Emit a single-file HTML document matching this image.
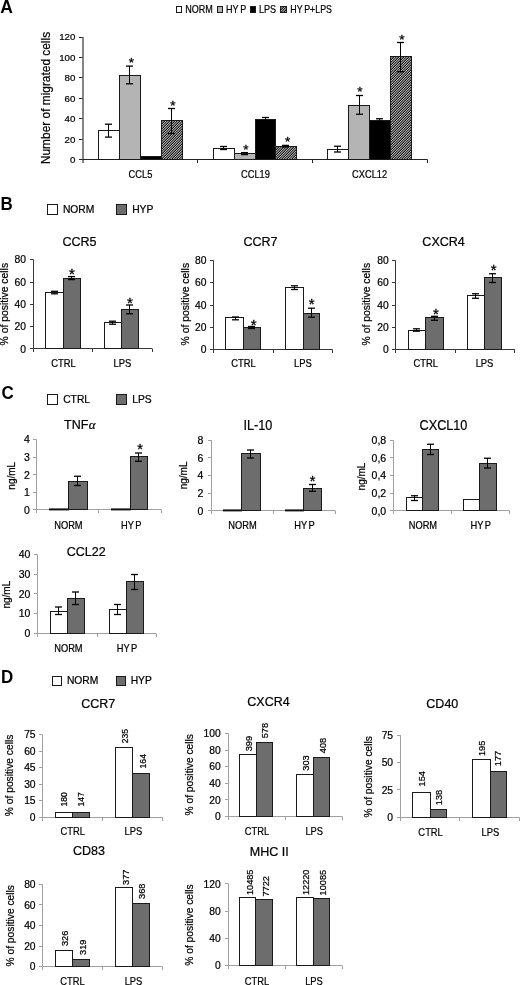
<!DOCTYPE html>
<html><head><meta charset="utf-8"><title>Figure</title>
<style>html,body{margin:0;padding:0;background:#fff;}svg{display:block;filter:blur(0.35px);}text{fill:#000;stroke:#000;stroke-width:0.22px;}</style>
</head><body>
<svg width="520" height="985" viewBox="0 0 520 985" font-family='"Liberation Sans", sans-serif'>
<defs><pattern id="hatch" patternUnits="userSpaceOnUse" width="5" height="5"><rect x="0" y="0" width="1" height="1" fill="#111111"/><rect x="1" y="0" width="1" height="1" fill="#bbbbbb"/><rect x="2" y="0" width="1" height="1" fill="#333333"/><rect x="3" y="0" width="1" height="1" fill="#7a7a7a"/><rect x="4" y="0" width="1" height="1" fill="#7a7a7a"/><rect x="0" y="1" width="1" height="1" fill="#bbbbbb"/><rect x="1" y="1" width="1" height="1" fill="#333333"/><rect x="2" y="1" width="1" height="1" fill="#7a7a7a"/><rect x="3" y="1" width="1" height="1" fill="#7a7a7a"/><rect x="4" y="1" width="1" height="1" fill="#111111"/><rect x="0" y="2" width="1" height="1" fill="#333333"/><rect x="1" y="2" width="1" height="1" fill="#7a7a7a"/><rect x="2" y="2" width="1" height="1" fill="#7a7a7a"/><rect x="3" y="2" width="1" height="1" fill="#111111"/><rect x="4" y="2" width="1" height="1" fill="#bbbbbb"/><rect x="0" y="3" width="1" height="1" fill="#7a7a7a"/><rect x="1" y="3" width="1" height="1" fill="#7a7a7a"/><rect x="2" y="3" width="1" height="1" fill="#111111"/><rect x="3" y="3" width="1" height="1" fill="#bbbbbb"/><rect x="4" y="3" width="1" height="1" fill="#333333"/><rect x="0" y="4" width="1" height="1" fill="#7a7a7a"/><rect x="1" y="4" width="1" height="1" fill="#111111"/><rect x="2" y="4" width="1" height="1" fill="#bbbbbb"/><rect x="3" y="4" width="1" height="1" fill="#333333"/><rect x="4" y="4" width="1" height="1" fill="#7a7a7a"/></pattern></defs>
<rect width="520" height="985" fill="#fff"/>
<text x="0.2" y="12.5" font-size="17.5" text-anchor="start" font-weight="bold" style="stroke-width:0">A</text>
<rect x="176.5" y="6.5" width="5" height="6" fill="#fff" stroke="#1a1a1a" stroke-width="1"/>
<text transform="translate(185.2,12.6) scale(0.88,1)" font-size="10.3" text-anchor="start">NORM</text>
<rect x="217.5" y="6.5" width="5" height="6" fill="#b4b4b4" stroke="#1a1a1a" stroke-width="1"/>
<text transform="translate(226,12.6) scale(0.88,1)" font-size="10.3" text-anchor="start">HY<tspan dx="2">P</tspan></text>
<rect x="250.5" y="6.5" width="5" height="6" fill="#000" stroke="#1a1a1a" stroke-width="1"/>
<text transform="translate(259,12.6) scale(0.88,1)" font-size="10.3" text-anchor="start">LPS</text>
<rect x="280.5" y="6.5" width="6" height="6" fill="url(#hatch)" stroke="#1a1a1a" stroke-width="1"/>
<text transform="translate(290.3,12.6) scale(0.855,1)" font-size="10.3" text-anchor="start">HY<tspan dx="2">P+LPS</tspan></text>
<line x1="83" y1="37" x2="83" y2="163" stroke="#222" stroke-width="1.1"/>
<line x1="79" y1="159.5" x2="82.5" y2="159.5" stroke="#222" stroke-width="1"/>
<text x="75.4" y="162.94" font-size="9.7" text-anchor="end">0</text>
<line x1="79" y1="139.5" x2="82.5" y2="139.5" stroke="#222" stroke-width="1"/>
<text x="75.4" y="142.53" font-size="9.7" text-anchor="end">20</text>
<line x1="79" y1="118.5" x2="82.5" y2="118.5" stroke="#222" stroke-width="1"/>
<text x="75.4" y="122.11" font-size="9.7" text-anchor="end">40</text>
<line x1="79" y1="98.5" x2="82.5" y2="98.5" stroke="#222" stroke-width="1"/>
<text x="75.4" y="101.69" font-size="9.7" text-anchor="end">60</text>
<line x1="79" y1="77.5" x2="82.5" y2="77.5" stroke="#222" stroke-width="1"/>
<text x="75.4" y="81.28" font-size="9.7" text-anchor="end">80</text>
<line x1="79" y1="57.5" x2="82.5" y2="57.5" stroke="#222" stroke-width="1"/>
<text x="75.4" y="60.86" font-size="9.7" text-anchor="end">100</text>
<line x1="79" y1="37.5" x2="82.5" y2="37.5" stroke="#222" stroke-width="1"/>
<text x="75.4" y="40.44" font-size="9.7" text-anchor="end">120</text>
<line x1="82.5" y1="159.5" x2="427.5" y2="159.5" stroke="#222" stroke-width="1"/>
<line x1="197.5" y1="159.5" x2="197.5" y2="163" stroke="#222" stroke-width="1"/>
<line x1="312.5" y1="159.5" x2="312.5" y2="163" stroke="#222" stroke-width="1"/>
<line x1="427.5" y1="159.5" x2="427.5" y2="163" stroke="#222" stroke-width="1"/>
<text transform="translate(50,98) rotate(-90)" font-size="11.9" text-anchor="middle">Number of migrated cells</text>
<rect x="98.5" y="130.5" width="21" height="29" fill="#fff" stroke="#1a1a1a" stroke-width="1"/>
<line x1="108.5" y1="124.2" x2="108.5" y2="137.1" stroke="#000" stroke-width="1"/>
<line x1="105" y1="124.2" x2="112" y2="124.2" stroke="#000" stroke-width="1.3"/>
<line x1="105" y1="137.1" x2="112" y2="137.1" stroke="#000" stroke-width="1.3"/>
<rect x="119.5" y="75.5" width="21" height="84" fill="#b4b4b4" stroke="#1a1a1a" stroke-width="1"/>
<line x1="129.5" y1="66.1" x2="129.5" y2="83.8" stroke="#000" stroke-width="1"/>
<line x1="126" y1="66.1" x2="133" y2="66.1" stroke="#000" stroke-width="1.3"/>
<line x1="126" y1="83.8" x2="133" y2="83.8" stroke="#000" stroke-width="1.3"/>
<text x="131.4" y="67.45" font-size="13.5" text-anchor="middle" style="stroke-width:0.3px">*</text>
<rect x="140.5" y="156.5" width="21" height="3" fill="#000" stroke="#1a1a1a" stroke-width="1"/>
<rect x="161.5" y="120.5" width="21" height="39" fill="url(#hatch)" stroke="#1a1a1a" stroke-width="1"/>
<line x1="171.5" y1="108.5" x2="171.5" y2="133.5" stroke="#000" stroke-width="1"/>
<line x1="168" y1="108.5" x2="175" y2="108.5" stroke="#000" stroke-width="1.3"/>
<line x1="168" y1="133.5" x2="175" y2="133.5" stroke="#000" stroke-width="1.3"/>
<text x="173" y="109.75" font-size="13.5" text-anchor="middle" style="stroke-width:0.3px">*</text>
<rect x="213.5" y="148.5" width="21" height="11" fill="#fff" stroke="#1a1a1a" stroke-width="1"/>
<line x1="223.5" y1="146.5" x2="223.5" y2="149.5" stroke="#000" stroke-width="1"/>
<line x1="220" y1="146.5" x2="227" y2="146.5" stroke="#000" stroke-width="1.3"/>
<line x1="220" y1="149.5" x2="227" y2="149.5" stroke="#000" stroke-width="1.3"/>
<rect x="234.5" y="153.5" width="21" height="6" fill="#b4b4b4" stroke="#1a1a1a" stroke-width="1"/>
<line x1="244.5" y1="152.6" x2="244.5" y2="154.6" stroke="#000" stroke-width="1"/>
<line x1="241" y1="152.6" x2="248" y2="152.6" stroke="#000" stroke-width="1.3"/>
<line x1="241" y1="154.6" x2="248" y2="154.6" stroke="#000" stroke-width="1.3"/>
<text x="246" y="154.25" font-size="13.5" text-anchor="middle" style="stroke-width:0.3px">*</text>
<rect x="255.5" y="119.5" width="20" height="40" fill="#000" stroke="#1a1a1a" stroke-width="1"/>
<line x1="265.5" y1="117.5" x2="265.5" y2="121" stroke="#000" stroke-width="1"/>
<line x1="262" y1="117.5" x2="269" y2="117.5" stroke="#000" stroke-width="1.3"/>
<line x1="262" y1="121" x2="269" y2="121" stroke="#000" stroke-width="1.3"/>
<rect x="275.5" y="146.5" width="21" height="13" fill="url(#hatch)" stroke="#1a1a1a" stroke-width="1"/>
<line x1="285.5" y1="145.4" x2="285.5" y2="147" stroke="#000" stroke-width="1"/>
<line x1="282" y1="145.4" x2="289" y2="145.4" stroke="#000" stroke-width="1.3"/>
<line x1="282" y1="147" x2="289" y2="147" stroke="#000" stroke-width="1.3"/>
<text x="287.7" y="145.55" font-size="13.5" text-anchor="middle" style="stroke-width:0.3px">*</text>
<rect x="327.5" y="149.5" width="21" height="10" fill="#fff" stroke="#1a1a1a" stroke-width="1"/>
<line x1="337.5" y1="146.25" x2="337.5" y2="152" stroke="#000" stroke-width="1"/>
<line x1="334" y1="146.25" x2="341" y2="146.25" stroke="#000" stroke-width="1.3"/>
<line x1="334" y1="152" x2="341" y2="152" stroke="#000" stroke-width="1.3"/>
<rect x="348.5" y="105.5" width="21" height="54" fill="#b4b4b4" stroke="#1a1a1a" stroke-width="1"/>
<line x1="359.5" y1="95.5" x2="359.5" y2="114.25" stroke="#000" stroke-width="1"/>
<line x1="356" y1="95.5" x2="363" y2="95.5" stroke="#000" stroke-width="1.3"/>
<line x1="356" y1="114.25" x2="363" y2="114.25" stroke="#000" stroke-width="1.3"/>
<text x="360" y="96.45" font-size="13.5" text-anchor="middle" style="stroke-width:0.3px">*</text>
<rect x="369.5" y="120.5" width="21" height="39" fill="#000" stroke="#1a1a1a" stroke-width="1"/>
<line x1="379.5" y1="118.75" x2="379.5" y2="122" stroke="#000" stroke-width="1"/>
<line x1="376" y1="118.75" x2="383" y2="118.75" stroke="#000" stroke-width="1.3"/>
<line x1="376" y1="122" x2="383" y2="122" stroke="#000" stroke-width="1.3"/>
<rect x="390.5" y="56.5" width="21" height="103" fill="url(#hatch)" stroke="#1a1a1a" stroke-width="1"/>
<line x1="400.5" y1="42.5" x2="400.5" y2="71.75" stroke="#000" stroke-width="1"/>
<line x1="397" y1="42.5" x2="404" y2="42.5" stroke="#000" stroke-width="1.3"/>
<line x1="397" y1="71.75" x2="404" y2="71.75" stroke="#000" stroke-width="1.3"/>
<text x="402" y="43.95" font-size="13.5" text-anchor="middle" style="stroke-width:0.3px">*</text>
<text transform="translate(140.5,177.6) scale(0.87,1)" font-size="10.7" text-anchor="middle">CCL5</text>
<text transform="translate(255.5,177.6) scale(0.87,1)" font-size="10.7" text-anchor="middle">CCL19</text>
<text transform="translate(369.6,177.6) scale(0.87,1)" font-size="10.7" text-anchor="middle">CXCL12</text>
<text transform="translate(0.5,209.6) scale(0.97,1)" font-size="17.5" text-anchor="start" font-weight="bold" style="stroke-width:0">B</text>
<rect x="47.5" y="204.5" width="10" height="10" fill="#fff" stroke="#1a1a1a" stroke-width="1"/>
<rect x="116.5" y="204.5" width="10" height="10" fill="#6d6d6d" stroke="#1a1a1a" stroke-width="1"/>
<text x="62.9" y="213" font-size="10.3" text-anchor="start">NORM</text>
<text x="132.2" y="213" font-size="10.3" text-anchor="start">HYP</text>
<line x1="33.5" y1="259.7" x2="33.5" y2="348.5" stroke="#383838" stroke-width="1"/>
<line x1="30" y1="348.5" x2="33.5" y2="348.5" stroke="#383838" stroke-width="1"/>
<text x="26" y="352.56" font-size="10.3" text-anchor="end">0</text>
<line x1="30" y1="326.5" x2="33.5" y2="326.5" stroke="#383838" stroke-width="1"/>
<text x="26" y="330.26" font-size="10.3" text-anchor="end">20</text>
<line x1="30" y1="304.5" x2="33.5" y2="304.5" stroke="#383838" stroke-width="1"/>
<text x="26" y="307.96" font-size="10.3" text-anchor="end">40</text>
<line x1="30" y1="282.5" x2="33.5" y2="282.5" stroke="#383838" stroke-width="1"/>
<text x="26" y="285.66" font-size="10.3" text-anchor="end">60</text>
<line x1="30" y1="259.5" x2="33.5" y2="259.5" stroke="#383838" stroke-width="1"/>
<text x="26" y="263.36" font-size="10.3" text-anchor="end">80</text>
<line x1="33.5" y1="348.5" x2="152" y2="348.5" stroke="#383838" stroke-width="1"/>
<line x1="33.5" y1="348.5" x2="33.5" y2="352" stroke="#383838" stroke-width="1"/>
<line x1="92.5" y1="348.5" x2="92.5" y2="352" stroke="#383838" stroke-width="1"/>
<line x1="152.5" y1="348.5" x2="152.5" y2="352" stroke="#383838" stroke-width="1"/>
<text transform="translate(79.5,246.4) scale(0.93,1)" font-size="13.5" text-anchor="middle">CCR5</text>
<text transform="translate(8.2,304.2) rotate(-90)" font-size="10.4" text-anchor="middle">% of positive cells</text>
<rect x="45.5" y="292.5" width="18" height="56" fill="#fff" stroke="#1a1a1a" stroke-width="1"/>
<line x1="54.5" y1="291.3" x2="54.5" y2="293.8" stroke="#000" stroke-width="1"/>
<line x1="51" y1="291.3" x2="58" y2="291.3" stroke="#000" stroke-width="1.3"/>
<line x1="51" y1="293.8" x2="58" y2="293.8" stroke="#000" stroke-width="1.3"/>
<rect x="63.5" y="278.5" width="17" height="70" fill="#6d6d6d" stroke="#1a1a1a" stroke-width="1"/>
<line x1="71.5" y1="276.6" x2="71.5" y2="279.6" stroke="#000" stroke-width="1"/>
<line x1="68" y1="276.6" x2="75" y2="276.6" stroke="#000" stroke-width="1.3"/>
<line x1="68" y1="279.6" x2="75" y2="279.6" stroke="#000" stroke-width="1.3"/>
<text x="72" y="279.03" font-size="15" text-anchor="middle" style="stroke-width:0.3px">*</text>
<rect x="104.5" y="322.5" width="17" height="26" fill="#fff" stroke="#1a1a1a" stroke-width="1"/>
<line x1="112.5" y1="321.2" x2="112.5" y2="324.2" stroke="#000" stroke-width="1"/>
<line x1="109" y1="321.2" x2="116" y2="321.2" stroke="#000" stroke-width="1.3"/>
<line x1="109" y1="324.2" x2="116" y2="324.2" stroke="#000" stroke-width="1.3"/>
<rect x="121.5" y="309.5" width="17" height="39" fill="#6d6d6d" stroke="#1a1a1a" stroke-width="1"/>
<line x1="129.5" y1="305" x2="129.5" y2="313.75" stroke="#000" stroke-width="1"/>
<line x1="126" y1="305" x2="133" y2="305" stroke="#000" stroke-width="1.3"/>
<line x1="126" y1="313.75" x2="133" y2="313.75" stroke="#000" stroke-width="1.3"/>
<text x="130" y="307.73" font-size="15" text-anchor="middle" style="stroke-width:0.3px">*</text>
<text transform="translate(63.5,367.2) scale(0.94,1)" font-size="10" text-anchor="middle">CTRL</text>
<text transform="translate(122.35,367.2) scale(0.94,1)" font-size="10" text-anchor="middle">LPS</text>
<line x1="213.5" y1="260.5" x2="213.5" y2="349.5" stroke="#383838" stroke-width="1"/>
<line x1="210" y1="349.5" x2="213.5" y2="349.5" stroke="#383838" stroke-width="1"/>
<text x="206.5" y="353.36" font-size="10.3" text-anchor="end">0</text>
<line x1="210" y1="327.5" x2="213.5" y2="327.5" stroke="#383838" stroke-width="1"/>
<text x="206.5" y="331.06" font-size="10.3" text-anchor="end">20</text>
<line x1="210" y1="305.5" x2="213.5" y2="305.5" stroke="#383838" stroke-width="1"/>
<text x="206.5" y="308.76" font-size="10.3" text-anchor="end">40</text>
<line x1="210" y1="282.5" x2="213.5" y2="282.5" stroke="#383838" stroke-width="1"/>
<text x="206.5" y="286.46" font-size="10.3" text-anchor="end">60</text>
<line x1="210" y1="260.5" x2="213.5" y2="260.5" stroke="#383838" stroke-width="1"/>
<text x="206.5" y="264.16" font-size="10.3" text-anchor="end">80</text>
<line x1="213.5" y1="349.5" x2="332.5" y2="349.5" stroke="#383838" stroke-width="1"/>
<line x1="213.5" y1="349.5" x2="213.5" y2="353" stroke="#383838" stroke-width="1"/>
<line x1="273.5" y1="349.5" x2="273.5" y2="353" stroke="#383838" stroke-width="1"/>
<line x1="332.5" y1="349.5" x2="332.5" y2="353" stroke="#383838" stroke-width="1"/>
<text transform="translate(260.5,246.4) scale(0.93,1)" font-size="13.5" text-anchor="middle">CCR7</text>
<text transform="translate(189.4,304.2) rotate(-90)" font-size="10.4" text-anchor="middle">% of positive cells</text>
<rect x="225.5" y="317.5" width="18" height="32" fill="#fff" stroke="#1a1a1a" stroke-width="1"/>
<line x1="235.5" y1="317" x2="235.5" y2="319.8" stroke="#000" stroke-width="1"/>
<line x1="232" y1="317" x2="239" y2="317" stroke="#000" stroke-width="1.3"/>
<line x1="232" y1="319.8" x2="239" y2="319.8" stroke="#000" stroke-width="1.3"/>
<rect x="243.5" y="327.5" width="17" height="22" fill="#6d6d6d" stroke="#1a1a1a" stroke-width="1"/>
<line x1="251.5" y1="326.5" x2="251.5" y2="328.5" stroke="#000" stroke-width="1"/>
<line x1="248" y1="326.5" x2="255" y2="326.5" stroke="#000" stroke-width="1.3"/>
<line x1="248" y1="328.5" x2="255" y2="328.5" stroke="#000" stroke-width="1.3"/>
<text x="253.75" y="329.98" font-size="15" text-anchor="middle" style="stroke-width:0.3px">*</text>
<rect x="285.5" y="287.5" width="18" height="62" fill="#fff" stroke="#1a1a1a" stroke-width="1"/>
<line x1="294.5" y1="285.8" x2="294.5" y2="289.5" stroke="#000" stroke-width="1"/>
<line x1="291" y1="285.8" x2="298" y2="285.8" stroke="#000" stroke-width="1.3"/>
<line x1="291" y1="289.5" x2="298" y2="289.5" stroke="#000" stroke-width="1.3"/>
<rect x="303.5" y="313.5" width="16" height="36" fill="#6d6d6d" stroke="#1a1a1a" stroke-width="1"/>
<line x1="311.5" y1="308.2" x2="311.5" y2="317.2" stroke="#000" stroke-width="1"/>
<line x1="308" y1="308.2" x2="315" y2="308.2" stroke="#000" stroke-width="1.3"/>
<line x1="308" y1="317.2" x2="315" y2="317.2" stroke="#000" stroke-width="1.3"/>
<text x="311.75" y="308.73" font-size="15" text-anchor="middle" style="stroke-width:0.3px">*</text>
<text transform="translate(243.5,367.2) scale(0.94,1)" font-size="10" text-anchor="middle">CTRL</text>
<text transform="translate(302.9,367.2) scale(0.94,1)" font-size="10" text-anchor="middle">LPS</text>
<line x1="395.5" y1="260.5" x2="395.5" y2="349.5" stroke="#383838" stroke-width="1"/>
<line x1="392" y1="349.5" x2="395.5" y2="349.5" stroke="#383838" stroke-width="1"/>
<text x="388.8" y="353.36" font-size="10.3" text-anchor="end">0</text>
<line x1="392" y1="327.5" x2="395.5" y2="327.5" stroke="#383838" stroke-width="1"/>
<text x="388.8" y="331.06" font-size="10.3" text-anchor="end">20</text>
<line x1="392" y1="305.5" x2="395.5" y2="305.5" stroke="#383838" stroke-width="1"/>
<text x="388.8" y="308.76" font-size="10.3" text-anchor="end">40</text>
<line x1="392" y1="282.5" x2="395.5" y2="282.5" stroke="#383838" stroke-width="1"/>
<text x="388.8" y="286.46" font-size="10.3" text-anchor="end">60</text>
<line x1="392" y1="260.5" x2="395.5" y2="260.5" stroke="#383838" stroke-width="1"/>
<text x="388.8" y="264.16" font-size="10.3" text-anchor="end">80</text>
<line x1="395.5" y1="349.5" x2="514.8" y2="349.5" stroke="#383838" stroke-width="1"/>
<line x1="395.5" y1="349.5" x2="395.5" y2="353" stroke="#383838" stroke-width="1"/>
<line x1="455.5" y1="349.5" x2="455.5" y2="353" stroke="#383838" stroke-width="1"/>
<line x1="514.5" y1="349.5" x2="514.5" y2="353" stroke="#383838" stroke-width="1"/>
<text transform="translate(443.6,246.4) scale(0.93,1)" font-size="13.5" text-anchor="middle">CXCR4</text>
<text transform="translate(370.4,304.2) rotate(-90)" font-size="10.4" text-anchor="middle">% of positive cells</text>
<rect x="408.5" y="330.5" width="17" height="19" fill="#fff" stroke="#1a1a1a" stroke-width="1"/>
<line x1="416.5" y1="328.8" x2="416.5" y2="331.2" stroke="#000" stroke-width="1"/>
<line x1="413" y1="328.8" x2="420" y2="328.8" stroke="#000" stroke-width="1.3"/>
<line x1="413" y1="331.2" x2="420" y2="331.2" stroke="#000" stroke-width="1.3"/>
<rect x="425.5" y="317.5" width="18" height="32" fill="#6d6d6d" stroke="#1a1a1a" stroke-width="1"/>
<line x1="434.5" y1="316.3" x2="434.5" y2="320.3" stroke="#000" stroke-width="1"/>
<line x1="431" y1="316.3" x2="438" y2="316.3" stroke="#000" stroke-width="1.3"/>
<line x1="431" y1="320.3" x2="438" y2="320.3" stroke="#000" stroke-width="1.3"/>
<text x="435.9" y="318.73" font-size="15" text-anchor="middle" style="stroke-width:0.3px">*</text>
<rect x="467.5" y="295.5" width="17" height="54" fill="#fff" stroke="#1a1a1a" stroke-width="1"/>
<line x1="475.5" y1="293.75" x2="475.5" y2="298.25" stroke="#000" stroke-width="1"/>
<line x1="472" y1="293.75" x2="479" y2="293.75" stroke="#000" stroke-width="1.3"/>
<line x1="472" y1="298.25" x2="479" y2="298.25" stroke="#000" stroke-width="1.3"/>
<rect x="484.5" y="277.5" width="17" height="72" fill="#6d6d6d" stroke="#1a1a1a" stroke-width="1"/>
<line x1="492.5" y1="273.75" x2="492.5" y2="282.5" stroke="#000" stroke-width="1"/>
<line x1="489" y1="273.75" x2="496" y2="273.75" stroke="#000" stroke-width="1.3"/>
<line x1="489" y1="282.5" x2="496" y2="282.5" stroke="#000" stroke-width="1.3"/>
<text x="493.7" y="275.03" font-size="15" text-anchor="middle" style="stroke-width:0.3px">*</text>
<text transform="translate(425.8,367.2) scale(0.94,1)" font-size="10" text-anchor="middle">CTRL</text>
<text transform="translate(484.5,367.2) scale(0.94,1)" font-size="10" text-anchor="middle">LPS</text>
<text transform="translate(1.6,399) scale(0.97,1)" font-size="17.5" text-anchor="start" font-weight="bold" style="stroke-width:0">C</text>
<rect x="47.5" y="394.5" width="10" height="10" fill="#fff" stroke="#1a1a1a" stroke-width="1"/>
<rect x="116.5" y="394.5" width="10" height="10" fill="#6d6d6d" stroke="#1a1a1a" stroke-width="1"/>
<text x="63.2" y="403" font-size="10.3" text-anchor="start">CTRL</text>
<text x="132.2" y="403" font-size="10.3" text-anchor="start">LPS</text>
<line x1="36.5" y1="439.7" x2="36.5" y2="509.5" stroke="#a0a0a0" stroke-width="1"/>
<line x1="33" y1="509.5" x2="36.5" y2="509.5" stroke="#a0a0a0" stroke-width="1"/>
<text x="29.8" y="513.63" font-size="10.5" text-anchor="end">0</text>
<line x1="33" y1="492.5" x2="36.5" y2="492.5" stroke="#a0a0a0" stroke-width="1"/>
<text x="29.8" y="496.08" font-size="10.5" text-anchor="end">1</text>
<line x1="33" y1="474.5" x2="36.5" y2="474.5" stroke="#a0a0a0" stroke-width="1"/>
<text x="29.8" y="478.53" font-size="10.5" text-anchor="end">2</text>
<line x1="33" y1="457.5" x2="36.5" y2="457.5" stroke="#a0a0a0" stroke-width="1"/>
<text x="29.8" y="460.98" font-size="10.5" text-anchor="end">3</text>
<line x1="33" y1="439.5" x2="36.5" y2="439.5" stroke="#a0a0a0" stroke-width="1"/>
<text x="29.8" y="443.43" font-size="10.5" text-anchor="end">4</text>
<line x1="36.5" y1="509.5" x2="161" y2="509.5" stroke="#a0a0a0" stroke-width="1"/>
<line x1="36.5" y1="509.5" x2="36.5" y2="513" stroke="#a0a0a0" stroke-width="1"/>
<line x1="98.5" y1="509.5" x2="98.5" y2="513" stroke="#a0a0a0" stroke-width="1"/>
<line x1="161.5" y1="509.5" x2="161.5" y2="513" stroke="#a0a0a0" stroke-width="1"/>
<text transform="translate(15,475.75) rotate(-90)" font-size="10" text-anchor="middle">ng/mL</text>
<rect x="49" y="508.4" width="20" height="2" fill="#111"/>
<rect x="68.5" y="481.5" width="19" height="28" fill="#6d6d6d" stroke="#1a1a1a" stroke-width="1"/>
<line x1="77.5" y1="476.25" x2="77.5" y2="485.5" stroke="#000" stroke-width="1"/>
<line x1="74" y1="476.25" x2="81" y2="476.25" stroke="#000" stroke-width="1.3"/>
<line x1="74" y1="485.5" x2="81" y2="485.5" stroke="#000" stroke-width="1.3"/>
<rect x="111" y="508.4" width="20" height="2" fill="#111"/>
<rect x="130.5" y="456.5" width="17" height="53" fill="#6d6d6d" stroke="#1a1a1a" stroke-width="1"/>
<line x1="138.5" y1="453" x2="138.5" y2="461.25" stroke="#000" stroke-width="1"/>
<line x1="135" y1="453" x2="142" y2="453" stroke="#000" stroke-width="1.3"/>
<line x1="135" y1="461.25" x2="142" y2="461.25" stroke="#000" stroke-width="1.3"/>
<text x="140" y="453.72" font-size="14.5" text-anchor="middle" style="stroke-width:0.3px">*</text>
<text transform="translate(68.4,528.8) scale(0.93,1)" font-size="10" text-anchor="middle">NORM</text>
<text transform="translate(131.25,528.8) scale(0.93,1)" font-size="10" text-anchor="middle">HY<tspan dx="1.5">P</tspan></text>
<text transform="translate(64,429.1) scale(0.97,1)" font-size="12.9" text-anchor="start">TNF<tspan dx="0.6" font-family='"Liberation Serif", serif' font-style="italic" font-size="13.5">&#945;</tspan></text>
<line x1="211.5" y1="440.3" x2="211.5" y2="510.5" stroke="#a0a0a0" stroke-width="1"/>
<line x1="208" y1="510.5" x2="211.5" y2="510.5" stroke="#a0a0a0" stroke-width="1"/>
<text x="203.4" y="514.53" font-size="10.5" text-anchor="end">0</text>
<line x1="208" y1="493.5" x2="211.5" y2="493.5" stroke="#a0a0a0" stroke-width="1"/>
<text x="203.4" y="496.9" font-size="10.5" text-anchor="end">2</text>
<line x1="208" y1="475.5" x2="211.5" y2="475.5" stroke="#a0a0a0" stroke-width="1"/>
<text x="203.4" y="479.28" font-size="10.5" text-anchor="end">4</text>
<line x1="208" y1="457.5" x2="211.5" y2="457.5" stroke="#a0a0a0" stroke-width="1"/>
<text x="203.4" y="461.65" font-size="10.5" text-anchor="end">6</text>
<line x1="208" y1="440.5" x2="211.5" y2="440.5" stroke="#a0a0a0" stroke-width="1"/>
<text x="203.4" y="444.03" font-size="10.5" text-anchor="end">8</text>
<line x1="211.5" y1="510.5" x2="335" y2="510.5" stroke="#a0a0a0" stroke-width="1"/>
<line x1="211.5" y1="510.5" x2="211.5" y2="514" stroke="#a0a0a0" stroke-width="1"/>
<line x1="273.5" y1="510.5" x2="273.5" y2="514" stroke="#a0a0a0" stroke-width="1"/>
<line x1="335.5" y1="510.5" x2="335.5" y2="514" stroke="#a0a0a0" stroke-width="1"/>
<text transform="translate(257.8,429.6) scale(0.88,1)" font-size="14.4" text-anchor="middle">IL-10</text>
<text transform="translate(187.3,475.4) rotate(-90)" font-size="10" text-anchor="middle">ng/mL</text>
<rect x="223" y="509.4" width="19" height="2" fill="#111"/>
<rect x="241.5" y="453.5" width="19" height="57" fill="#6d6d6d" stroke="#1a1a1a" stroke-width="1"/>
<line x1="250.5" y1="450" x2="250.5" y2="458" stroke="#000" stroke-width="1"/>
<line x1="247" y1="450" x2="254" y2="450" stroke="#000" stroke-width="1.3"/>
<line x1="247" y1="458" x2="254" y2="458" stroke="#000" stroke-width="1.3"/>
<rect x="285" y="509.4" width="19" height="2" fill="#111"/>
<rect x="303.5" y="488.5" width="18" height="22" fill="#6d6d6d" stroke="#1a1a1a" stroke-width="1"/>
<line x1="312.5" y1="484.5" x2="312.5" y2="491.25" stroke="#000" stroke-width="1"/>
<line x1="309" y1="484.5" x2="316" y2="484.5" stroke="#000" stroke-width="1.3"/>
<line x1="309" y1="491.25" x2="316" y2="491.25" stroke="#000" stroke-width="1.3"/>
<text x="312.5" y="485.97" font-size="14.5" text-anchor="middle" style="stroke-width:0.3px">*</text>
<text transform="translate(242.5,528.8) scale(0.93,1)" font-size="10" text-anchor="middle">NORM</text>
<text transform="translate(304.5,528.8) scale(0.93,1)" font-size="10" text-anchor="middle">HY<tspan dx="1.5">P</tspan></text>
<line x1="393.5" y1="440.3" x2="393.5" y2="510.5" stroke="#a0a0a0" stroke-width="1"/>
<line x1="390" y1="510.5" x2="393.5" y2="510.5" stroke="#a0a0a0" stroke-width="1"/>
<text x="386.2" y="514.53" font-size="10.5" text-anchor="end">0,0</text>
<line x1="390" y1="493.5" x2="393.5" y2="493.5" stroke="#a0a0a0" stroke-width="1"/>
<text x="386.2" y="496.9" font-size="10.5" text-anchor="end">0,2</text>
<line x1="390" y1="475.5" x2="393.5" y2="475.5" stroke="#a0a0a0" stroke-width="1"/>
<text x="386.2" y="479.28" font-size="10.5" text-anchor="end">0,4</text>
<line x1="390" y1="457.5" x2="393.5" y2="457.5" stroke="#a0a0a0" stroke-width="1"/>
<text x="386.2" y="461.65" font-size="10.5" text-anchor="end">0,6</text>
<line x1="390" y1="440.5" x2="393.5" y2="440.5" stroke="#a0a0a0" stroke-width="1"/>
<text x="386.2" y="444.03" font-size="10.5" text-anchor="end">0,8</text>
<line x1="393.5" y1="510.5" x2="509" y2="510.5" stroke="#a0a0a0" stroke-width="1"/>
<line x1="393.5" y1="510.5" x2="393.5" y2="514" stroke="#a0a0a0" stroke-width="1"/>
<line x1="451.5" y1="510.5" x2="451.5" y2="514" stroke="#a0a0a0" stroke-width="1"/>
<line x1="509.5" y1="510.5" x2="509.5" y2="514" stroke="#a0a0a0" stroke-width="1"/>
<text transform="translate(443.5,430.4) scale(0.88,1)" font-size="14.4" text-anchor="middle">CXCL10</text>
<text transform="translate(364.6,476.5) rotate(-90)" font-size="10" text-anchor="middle">ng/mL</text>
<rect x="406.5" y="497.5" width="16" height="13" fill="#fff" stroke="#1a1a1a" stroke-width="1"/>
<line x1="414.5" y1="495.75" x2="414.5" y2="500.5" stroke="#000" stroke-width="1"/>
<line x1="411" y1="495.75" x2="418" y2="495.75" stroke="#000" stroke-width="1.3"/>
<line x1="411" y1="500.5" x2="418" y2="500.5" stroke="#000" stroke-width="1.3"/>
<rect x="422.5" y="449.5" width="16" height="61" fill="#6d6d6d" stroke="#1a1a1a" stroke-width="1"/>
<line x1="430.5" y1="444.25" x2="430.5" y2="454.5" stroke="#000" stroke-width="1"/>
<line x1="427" y1="444.25" x2="434" y2="444.25" stroke="#000" stroke-width="1.3"/>
<line x1="427" y1="454.5" x2="434" y2="454.5" stroke="#000" stroke-width="1.3"/>
<rect x="463.5" y="499.5" width="16" height="11" fill="#fff" stroke="#1a1a1a" stroke-width="1"/>
<rect x="479.5" y="463.5" width="17" height="47" fill="#6d6d6d" stroke="#1a1a1a" stroke-width="1"/>
<line x1="487.5" y1="458.25" x2="487.5" y2="468" stroke="#000" stroke-width="1"/>
<line x1="484" y1="458.25" x2="491" y2="458.25" stroke="#000" stroke-width="1.3"/>
<line x1="484" y1="468" x2="491" y2="468" stroke="#000" stroke-width="1.3"/>
<text transform="translate(422.9,528.8) scale(0.93,1)" font-size="10" text-anchor="middle">NORM</text>
<text transform="translate(480.75,528.8) scale(0.93,1)" font-size="10" text-anchor="middle">HY<tspan dx="1.5">P</tspan></text>
<line x1="37.5" y1="554.6" x2="37.5" y2="633.5" stroke="#a0a0a0" stroke-width="1"/>
<line x1="34" y1="633.5" x2="37.5" y2="633.5" stroke="#a0a0a0" stroke-width="1"/>
<text x="30.4" y="636.73" font-size="10.5" text-anchor="end">0</text>
<line x1="34" y1="613.5" x2="37.5" y2="613.5" stroke="#a0a0a0" stroke-width="1"/>
<text x="30.4" y="617.13" font-size="10.5" text-anchor="end">10</text>
<line x1="34" y1="593.5" x2="37.5" y2="593.5" stroke="#a0a0a0" stroke-width="1"/>
<text x="30.4" y="597.53" font-size="10.5" text-anchor="end">20</text>
<line x1="34" y1="574.5" x2="37.5" y2="574.5" stroke="#a0a0a0" stroke-width="1"/>
<text x="30.4" y="577.93" font-size="10.5" text-anchor="end">30</text>
<line x1="34" y1="554.5" x2="37.5" y2="554.5" stroke="#a0a0a0" stroke-width="1"/>
<text x="30.4" y="558.33" font-size="10.5" text-anchor="end">40</text>
<line x1="37.5" y1="633.5" x2="156" y2="633.5" stroke="#a0a0a0" stroke-width="1"/>
<line x1="37.5" y1="633.5" x2="37.5" y2="637" stroke="#a0a0a0" stroke-width="1"/>
<line x1="97.5" y1="633.5" x2="97.5" y2="637" stroke="#a0a0a0" stroke-width="1"/>
<line x1="156.5" y1="633.5" x2="156.5" y2="637" stroke="#a0a0a0" stroke-width="1"/>
<text transform="translate(86.2,556.2) scale(0.95,1)" font-size="13.2" text-anchor="middle">CCL22</text>
<text transform="translate(10.2,594.7) rotate(-90)" font-size="10" text-anchor="middle">ng/mL</text>
<rect x="50.5" y="611.5" width="17" height="22" fill="#fff" stroke="#1a1a1a" stroke-width="1"/>
<line x1="58.5" y1="607" x2="58.5" y2="614.5" stroke="#000" stroke-width="1"/>
<line x1="55" y1="607" x2="62" y2="607" stroke="#000" stroke-width="1.3"/>
<line x1="55" y1="614.5" x2="62" y2="614.5" stroke="#000" stroke-width="1.3"/>
<rect x="67.5" y="598.5" width="17" height="35" fill="#6d6d6d" stroke="#1a1a1a" stroke-width="1"/>
<line x1="75.5" y1="592" x2="75.5" y2="604.5" stroke="#000" stroke-width="1"/>
<line x1="72" y1="592" x2="79" y2="592" stroke="#000" stroke-width="1.3"/>
<line x1="72" y1="604.5" x2="79" y2="604.5" stroke="#000" stroke-width="1.3"/>
<rect x="109.5" y="609.5" width="17" height="24" fill="#fff" stroke="#1a1a1a" stroke-width="1"/>
<line x1="117.5" y1="604.5" x2="117.5" y2="614.5" stroke="#000" stroke-width="1"/>
<line x1="114" y1="604.5" x2="121" y2="604.5" stroke="#000" stroke-width="1.3"/>
<line x1="114" y1="614.5" x2="121" y2="614.5" stroke="#000" stroke-width="1.3"/>
<rect x="126.5" y="581.5" width="17" height="52" fill="#6d6d6d" stroke="#1a1a1a" stroke-width="1"/>
<line x1="134.5" y1="574.5" x2="134.5" y2="589.5" stroke="#000" stroke-width="1"/>
<line x1="131" y1="574.5" x2="138" y2="574.5" stroke="#000" stroke-width="1.3"/>
<line x1="131" y1="589.5" x2="138" y2="589.5" stroke="#000" stroke-width="1.3"/>
<text transform="translate(68.4,652) scale(0.93,1)" font-size="10" text-anchor="middle">NORM</text>
<text transform="translate(127,652) scale(0.93,1)" font-size="10" text-anchor="middle">HY<tspan dx="1.5">P</tspan></text>
<text transform="translate(1,683.2) scale(0.97,1)" font-size="17.5" text-anchor="start" font-weight="bold" style="stroke-width:0">D</text>
<rect x="52.5" y="676.5" width="9" height="9" fill="#fff" stroke="#1a1a1a" stroke-width="1"/>
<rect x="116.5" y="676.5" width="9" height="9" fill="#6d6d6d" stroke="#1a1a1a" stroke-width="1"/>
<text x="66.9" y="684.1" font-size="10.3" text-anchor="start">NORM</text>
<text x="130.7" y="684.1" font-size="10.3" text-anchor="start">HYP</text>
<line x1="42.5" y1="734.6" x2="42.5" y2="817.5" stroke="#a0a0a0" stroke-width="1"/>
<line x1="39" y1="817.5" x2="42.5" y2="817.5" stroke="#a0a0a0" stroke-width="1"/>
<text x="35.6" y="820.86" font-size="10.3" text-anchor="end">0</text>
<line x1="39" y1="800.5" x2="42.5" y2="800.5" stroke="#a0a0a0" stroke-width="1"/>
<text x="35.6" y="804.34" font-size="10.3" text-anchor="end">15</text>
<line x1="39" y1="784.5" x2="42.5" y2="784.5" stroke="#a0a0a0" stroke-width="1"/>
<text x="35.6" y="787.82" font-size="10.3" text-anchor="end">30</text>
<line x1="39" y1="767.5" x2="42.5" y2="767.5" stroke="#a0a0a0" stroke-width="1"/>
<text x="35.6" y="771.3" font-size="10.3" text-anchor="end">45</text>
<line x1="39" y1="751.5" x2="42.5" y2="751.5" stroke="#a0a0a0" stroke-width="1"/>
<text x="35.6" y="754.78" font-size="10.3" text-anchor="end">60</text>
<line x1="39" y1="734.5" x2="42.5" y2="734.5" stroke="#a0a0a0" stroke-width="1"/>
<text x="35.6" y="738.26" font-size="10.3" text-anchor="end">75</text>
<line x1="42.5" y1="817.5" x2="162.5" y2="817.5" stroke="#a0a0a0" stroke-width="1"/>
<line x1="42.5" y1="817.5" x2="42.5" y2="821" stroke="#a0a0a0" stroke-width="1"/>
<line x1="102.5" y1="817.5" x2="102.5" y2="821" stroke="#a0a0a0" stroke-width="1"/>
<line x1="162.5" y1="817.5" x2="162.5" y2="821" stroke="#a0a0a0" stroke-width="1"/>
<text transform="translate(98.2,707.8) scale(0.95,1)" font-size="13.2" text-anchor="middle">CCR7</text>
<text transform="translate(13.4,775.4) rotate(-90)" font-size="10.25" text-anchor="middle">% of positive cells</text>
<rect x="55.5" y="812.5" width="17" height="5" fill="#fff" stroke="#1a1a1a" stroke-width="1"/>
<rect x="72.5" y="812.5" width="17" height="5" fill="#6d6d6d" stroke="#1a1a1a" stroke-width="1"/>
<rect x="115.5" y="747.5" width="17" height="70" fill="#fff" stroke="#1a1a1a" stroke-width="1"/>
<rect x="132.5" y="773.5" width="17" height="44" fill="#6d6d6d" stroke="#1a1a1a" stroke-width="1"/>
<text transform="translate(67.1,799.45) rotate(-90)" font-size="8.6" text-anchor="middle">180</text>
<text transform="translate(84.4,799.45) rotate(-90)" font-size="8.6" text-anchor="middle">147</text>
<text transform="translate(127.7,736.2) rotate(-90)" font-size="8.6" text-anchor="middle">235</text>
<text transform="translate(145.8,761.25) rotate(-90)" font-size="8.6" text-anchor="middle">164</text>
<text transform="translate(72.8,835.4) scale(0.86,1)" font-size="10.9" text-anchor="middle">CTRL</text>
<text transform="translate(133.3,835.4) scale(0.86,1)" font-size="10.9" text-anchor="middle">LPS</text>
<line x1="228.5" y1="733.4" x2="228.5" y2="816.5" stroke="#a0a0a0" stroke-width="1"/>
<line x1="225" y1="816.5" x2="228.5" y2="816.5" stroke="#a0a0a0" stroke-width="1"/>
<text x="220.8" y="820.26" font-size="10.3" text-anchor="end">0</text>
<line x1="225" y1="799.5" x2="228.5" y2="799.5" stroke="#a0a0a0" stroke-width="1"/>
<text x="220.8" y="803.62" font-size="10.3" text-anchor="end">20</text>
<line x1="225" y1="783.5" x2="228.5" y2="783.5" stroke="#a0a0a0" stroke-width="1"/>
<text x="220.8" y="786.98" font-size="10.3" text-anchor="end">40</text>
<line x1="225" y1="766.5" x2="228.5" y2="766.5" stroke="#a0a0a0" stroke-width="1"/>
<text x="220.8" y="770.34" font-size="10.3" text-anchor="end">60</text>
<line x1="225" y1="750.5" x2="228.5" y2="750.5" stroke="#a0a0a0" stroke-width="1"/>
<text x="220.8" y="753.7" font-size="10.3" text-anchor="end">80</text>
<line x1="225" y1="733.5" x2="228.5" y2="733.5" stroke="#a0a0a0" stroke-width="1"/>
<text x="220.8" y="737.06" font-size="10.3" text-anchor="end">100</text>
<line x1="228.5" y1="816.5" x2="342" y2="816.5" stroke="#a0a0a0" stroke-width="1"/>
<line x1="228.5" y1="816.5" x2="228.5" y2="820" stroke="#a0a0a0" stroke-width="1"/>
<line x1="285.5" y1="816.5" x2="285.5" y2="820" stroke="#a0a0a0" stroke-width="1"/>
<line x1="342.5" y1="816.5" x2="342.5" y2="820" stroke="#a0a0a0" stroke-width="1"/>
<text transform="translate(268.5,705.8) scale(0.95,1)" font-size="13.2" text-anchor="middle">CXCR4</text>
<text transform="translate(193.2,774.8) rotate(-90)" font-size="10.25" text-anchor="middle">% of positive cells</text>
<rect x="239.5" y="754.5" width="17" height="62" fill="#fff" stroke="#1a1a1a" stroke-width="1"/>
<rect x="256.5" y="742.5" width="16" height="74" fill="#6d6d6d" stroke="#1a1a1a" stroke-width="1"/>
<rect x="296.5" y="774.5" width="17" height="42" fill="#fff" stroke="#1a1a1a" stroke-width="1"/>
<rect x="313.5" y="757.5" width="16" height="59" fill="#6d6d6d" stroke="#1a1a1a" stroke-width="1"/>
<text transform="translate(252,743.65) rotate(-90) scale(1,1.08)" font-size="9.2" text-anchor="middle">399</text>
<text transform="translate(267.8,730.6) rotate(-90) scale(1,1.08)" font-size="9.2" text-anchor="middle">578</text>
<text transform="translate(308.55,763) rotate(-90) scale(1,1.08)" font-size="9.2" text-anchor="middle">303</text>
<text transform="translate(326.05,745.5) rotate(-90) scale(1,1.08)" font-size="9.2" text-anchor="middle">408</text>
<text transform="translate(256.9,835.4) scale(0.86,1)" font-size="10.9" text-anchor="middle">CTRL</text>
<text transform="translate(314.25,835.4) scale(0.86,1)" font-size="10.9" text-anchor="middle">LPS</text>
<line x1="400.5" y1="735.1" x2="400.5" y2="817.5" stroke="#a0a0a0" stroke-width="1"/>
<line x1="397" y1="817.5" x2="400.5" y2="817.5" stroke="#a0a0a0" stroke-width="1"/>
<text x="393.1" y="821.06" font-size="10.3" text-anchor="end">0</text>
<line x1="397" y1="789.5" x2="400.5" y2="789.5" stroke="#a0a0a0" stroke-width="1"/>
<text x="393.1" y="793.62" font-size="10.3" text-anchor="end">25</text>
<line x1="397" y1="762.5" x2="400.5" y2="762.5" stroke="#a0a0a0" stroke-width="1"/>
<text x="393.1" y="766.19" font-size="10.3" text-anchor="end">50</text>
<line x1="397" y1="735.5" x2="400.5" y2="735.5" stroke="#a0a0a0" stroke-width="1"/>
<text x="393.1" y="738.76" font-size="10.3" text-anchor="end">75</text>
<line x1="400.5" y1="817.5" x2="519.4" y2="817.5" stroke="#a0a0a0" stroke-width="1"/>
<line x1="400.5" y1="817.5" x2="400.5" y2="821" stroke="#a0a0a0" stroke-width="1"/>
<line x1="459.5" y1="817.5" x2="459.5" y2="821" stroke="#a0a0a0" stroke-width="1"/>
<line x1="519.5" y1="817.5" x2="519.5" y2="821" stroke="#a0a0a0" stroke-width="1"/>
<text transform="translate(442.3,708.4) scale(0.95,1)" font-size="13.2" text-anchor="middle">CD40</text>
<text transform="translate(371.5,776.8) rotate(-90)" font-size="10.25" text-anchor="middle">% of positive cells</text>
<rect x="412.5" y="792.5" width="18" height="25" fill="#fff" stroke="#1a1a1a" stroke-width="1"/>
<rect x="430.5" y="809.5" width="16" height="8" fill="#6d6d6d" stroke="#1a1a1a" stroke-width="1"/>
<rect x="472.5" y="759.5" width="18" height="58" fill="#fff" stroke="#1a1a1a" stroke-width="1"/>
<rect x="490.5" y="771.5" width="16" height="46" fill="#6d6d6d" stroke="#1a1a1a" stroke-width="1"/>
<text transform="translate(425.3,778.75) rotate(-90) scale(1,1.08)" font-size="9.2" text-anchor="middle">154</text>
<text transform="translate(442.4,797.5) rotate(-90) scale(1,1.08)" font-size="9.2" text-anchor="middle">138</text>
<text transform="translate(484.8,748.4) rotate(-90) scale(1,1.08)" font-size="9.2" text-anchor="middle">195</text>
<text transform="translate(501.3,758.5) rotate(-90) scale(1,1.08)" font-size="9.2" text-anchor="middle">177</text>
<text transform="translate(430.6,836) scale(0.86,1)" font-size="10.9" text-anchor="middle">CTRL</text>
<text transform="translate(490.3,836) scale(0.86,1)" font-size="10.9" text-anchor="middle">LPS</text>
<line x1="42.5" y1="884.2" x2="42.5" y2="966.5" stroke="#a0a0a0" stroke-width="1"/>
<line x1="39" y1="966.5" x2="42.5" y2="966.5" stroke="#a0a0a0" stroke-width="1"/>
<text x="35.6" y="970.46" font-size="10.3" text-anchor="end">0</text>
<line x1="39" y1="946.5" x2="42.5" y2="946.5" stroke="#a0a0a0" stroke-width="1"/>
<text x="35.6" y="949.81" font-size="10.3" text-anchor="end">20</text>
<line x1="39" y1="925.5" x2="42.5" y2="925.5" stroke="#a0a0a0" stroke-width="1"/>
<text x="35.6" y="929.16" font-size="10.3" text-anchor="end">40</text>
<line x1="39" y1="904.5" x2="42.5" y2="904.5" stroke="#a0a0a0" stroke-width="1"/>
<text x="35.6" y="908.51" font-size="10.3" text-anchor="end">60</text>
<line x1="39" y1="884.5" x2="42.5" y2="884.5" stroke="#a0a0a0" stroke-width="1"/>
<text x="35.6" y="887.86" font-size="10.3" text-anchor="end">80</text>
<line x1="42.5" y1="966.5" x2="162.5" y2="966.5" stroke="#a0a0a0" stroke-width="1"/>
<line x1="42.5" y1="966.5" x2="42.5" y2="970" stroke="#a0a0a0" stroke-width="1"/>
<line x1="102.5" y1="966.5" x2="102.5" y2="970" stroke="#a0a0a0" stroke-width="1"/>
<line x1="162.5" y1="966.5" x2="162.5" y2="970" stroke="#a0a0a0" stroke-width="1"/>
<text transform="translate(89,855.2) scale(0.95,1)" font-size="13.2" text-anchor="middle">CD83</text>
<text transform="translate(13.8,925.75) rotate(-90)" font-size="10.25" text-anchor="middle">% of positive cells</text>
<rect x="55.5" y="950.5" width="17" height="16" fill="#fff" stroke="#1a1a1a" stroke-width="1"/>
<rect x="72.5" y="959.5" width="17" height="7" fill="#6d6d6d" stroke="#1a1a1a" stroke-width="1"/>
<rect x="115.5" y="887.5" width="17" height="79" fill="#fff" stroke="#1a1a1a" stroke-width="1"/>
<rect x="132.5" y="903.5" width="17" height="63" fill="#6d6d6d" stroke="#1a1a1a" stroke-width="1"/>
<text transform="translate(67.8,938.38) rotate(-90) scale(1,1.08)" font-size="9.2" text-anchor="middle">326</text>
<text transform="translate(86.05,947.25) rotate(-90) scale(1,1.08)" font-size="9.2" text-anchor="middle">319</text>
<text transform="translate(128.55,877.25) rotate(-90) scale(1,1.08)" font-size="9.2" text-anchor="middle">377</text>
<text transform="translate(144.8,891.25) rotate(-90) scale(1,1.08)" font-size="9.2" text-anchor="middle">368</text>
<text transform="translate(72.5,984.5) scale(0.86,1)" font-size="10.9" text-anchor="middle">CTRL</text>
<text transform="translate(133.5,984.5) scale(0.86,1)" font-size="10.9" text-anchor="middle">LPS</text>
<line x1="228.5" y1="883.9" x2="228.5" y2="965.5" stroke="#a0a0a0" stroke-width="1"/>
<line x1="225" y1="965.5" x2="228.5" y2="965.5" stroke="#a0a0a0" stroke-width="1"/>
<text x="220.8" y="969.46" font-size="10.3" text-anchor="end">0</text>
<line x1="225" y1="938.5" x2="228.5" y2="938.5" stroke="#a0a0a0" stroke-width="1"/>
<text x="220.8" y="942.16" font-size="10.3" text-anchor="end">40</text>
<line x1="225" y1="911.5" x2="228.5" y2="911.5" stroke="#a0a0a0" stroke-width="1"/>
<text x="220.8" y="914.86" font-size="10.3" text-anchor="end">80</text>
<line x1="225" y1="883.5" x2="228.5" y2="883.5" stroke="#a0a0a0" stroke-width="1"/>
<text x="220.8" y="887.56" font-size="10.3" text-anchor="end">120</text>
<line x1="228.5" y1="965.5" x2="342" y2="965.5" stroke="#a0a0a0" stroke-width="1"/>
<line x1="228.5" y1="965.5" x2="228.5" y2="969" stroke="#a0a0a0" stroke-width="1"/>
<line x1="285.5" y1="965.5" x2="285.5" y2="969" stroke="#a0a0a0" stroke-width="1"/>
<line x1="342.5" y1="965.5" x2="342.5" y2="969" stroke="#a0a0a0" stroke-width="1"/>
<text transform="translate(269.2,855.8) scale(0.95,1)" font-size="13.2" text-anchor="middle">MHC II</text>
<text transform="translate(193.2,925) rotate(-90)" font-size="10.25" text-anchor="middle">% of positive cells</text>
<rect x="239.5" y="897.5" width="16" height="68" fill="#fff" stroke="#1a1a1a" stroke-width="1"/>
<rect x="255.5" y="899.5" width="17" height="66" fill="#6d6d6d" stroke="#1a1a1a" stroke-width="1"/>
<rect x="296.5" y="897.5" width="17" height="68" fill="#fff" stroke="#1a1a1a" stroke-width="1"/>
<rect x="313.5" y="898.5" width="16" height="67" fill="#6d6d6d" stroke="#1a1a1a" stroke-width="1"/>
<text transform="translate(252.5,882.3) rotate(-90) scale(1,1.08)" font-size="9.2" text-anchor="middle">10485</text>
<text transform="translate(269.4,886.3) rotate(-90) scale(1,1.08)" font-size="9.2" text-anchor="middle">7722</text>
<text transform="translate(309.4,882.3) rotate(-90) scale(1,1.08)" font-size="9.2" text-anchor="middle">12220</text>
<text transform="translate(326.1,882.6) rotate(-90) scale(1,1.08)" font-size="9.2" text-anchor="middle">10085</text>
<text transform="translate(257,984.5) scale(0.86,1)" font-size="10.9" text-anchor="middle">CTRL</text>
<text transform="translate(314,984.5) scale(0.86,1)" font-size="10.9" text-anchor="middle">LPS</text>
</svg>
</body></html>
